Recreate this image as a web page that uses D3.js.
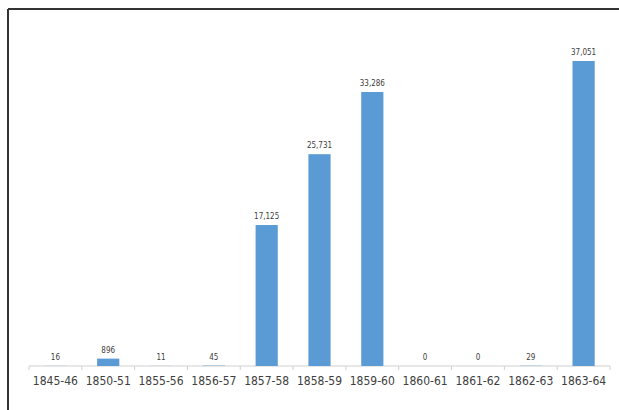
<!DOCTYPE html>
<html><head><meta charset="utf-8">
<script src="https://cdn.jsdelivr.net/npm/d3@7"></script>
<style>body{margin:0;background:#fff}svg{display:block}</style>
</head><body>
<script>
const categories = ["1845-46","1850-51","1855-56","1856-57","1857-58","1858-59","1859-60","1860-61","1861-62","1862-63","1863-64"];
const values = [16, 896, 11, 45, 17125, 25731, 33286, 0, 0, 29, 37051];

const W = 619, H = 410;
const svg = d3.select("body").append("svg").attr("width", W).attr("height", H);

// page frame
svg.append("line").attr("x1", 8).attr("x2", W).attr("y1", 9).attr("y2", 9).attr("stroke", "#333").attr("stroke-width", 2);
svg.append("line").attr("x1", 8).attr("x2", 8).attr("y1", 9).attr("y2", H).attr("stroke", "#333").attr("stroke-width", 2);

const x = d3.scaleBand().domain(categories).range([29, 610]).paddingInner(0.58).paddingOuter(0.29);
const y = d3.scaleLinear().domain([0, 37051]).range([366, 61]);

const font = "'Liberation Sans Narrow','DejaVu Sans Condensed',sans-serif";

// axis
const axis = svg.append("g").attr("transform", "translate(0,366)");
axis.append("line").attr("x1", 29).attr("x2", 610).attr("stroke", "#d0d0d0").attr("stroke-width", 1);
const step = x.step();
const bounds = d3.range(categories.length + 1).map(i => 29 + i * (610 - 29) / categories.length);
axis.selectAll("line.tk").data(bounds).join("line").attr("class", "tk")
  .attr("x1", d => d).attr("x2", d => d).attr("y1", 0).attr("y2", 4).attr("stroke", "#d0d0d0");

svg.selectAll("text.cat").data(categories).join("text").attr("class", "cat")
  .attr("x", d => x(d) + x.bandwidth() / 2).attr("y", 385)
  .attr("text-anchor", "middle").attr("font-family", font).attr("font-size", 12)
  .attr("fill", "#404040").text(d => d);

svg.selectAll("rect.bar").data(values).join("rect").attr("class", "bar")
  .attr("x", (d, i) => x(categories[i])).attr("width", x.bandwidth())
  .attr("y", d => y(d)).attr("height", d => 366 - y(d)).attr("fill", "#5b9bd5");

svg.selectAll("text.val").data(values).join("text").attr("class", "val")
  .attr("x", (d, i) => x(categories[i]) + x.bandwidth() / 2).attr("y", d => y(d) - 6)
  .attr("text-anchor", "middle").attr("font-family", font).attr("font-size", 8)
  .attr("fill", "#404040").text(d => d3.format(",")(d));
</script>
</body></html>
